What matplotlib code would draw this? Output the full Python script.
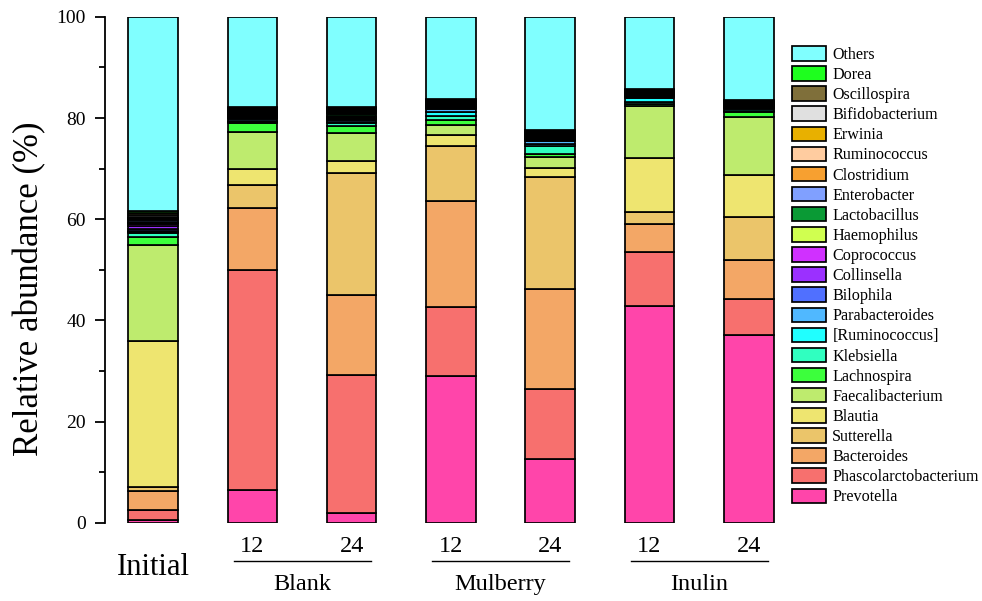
import matplotlib
matplotlib.use("Agg")
import matplotlib.pyplot as plt
import numpy as np

# genera, in stacking order (bottom -> top)
taxa = ["Prevotella", "Phascolarctobacterium", "Bacteroides", "Sutterella", "Blautia",
        "Faecalibacterium", "Lachnospira", "Klebsiella", "[Ruminococcus]", "Parabacteroides",
        "Bilophila", "Collinsella", "Coprococcus", "Haemophilus", "Lactobacillus",
        "Enterobacter", "Clostridium", "Ruminococcus", "Erwinia", "Bifidobacterium",
        "Oscillospira", "Dorea", "Others"]

colors = ["#FF45AA", "#F7706E", "#F3A766", "#EBC56A", "#EEE570",
          "#BEEB6E", "#3CFF3C", "#30FFC0", "#20FFFF", "#50B8FF",
          "#5070FF", "#9B30FF", "#D030FF", "#D0FF50", "#0A9A35",
          "#80A0FF", "#F7A030", "#FFCCA0", "#E8B000", "#E0E0E0",
          "#7F6F3A", "#1EFF1E", "#80FFFF"]

# relative abundance (%) per sample, same order as taxa
initial = [0.6, 2.0, 3.6, 0.8, 29.0, 18.9, 1.6, 0.7, 0.3, 0.2, 0.3, 0.6, 0.4, 0.3,
           0.2, 0.3, 0.3, 0.2, 0.2, 0.4, 0.4, 0.4, 38.2]
blank_12 = [6.5, 43.4, 12.3, 4.6, 3.2, 7.2, 1.8, 0.3, 0.2, 0.3, 0.2, 0.2, 0.2, 0.2,
            0.2, 0.2, 0.2, 0.2, 0.2, 0.2, 0.2, 0.1, 17.9]
blank_24 = [1.9, 27.3, 15.9, 24.1, 2.3, 5.5, 1.5, 0.6, 0.2, 0.4, 0.2, 0.2, 0.2, 0.2,
            0.2, 0.2, 0.2, 0.2, 0.2, 0.2, 0.2, 0.2, 17.9]
mulberry_12 = [29.1, 13.6, 20.9, 10.8, 2.3, 1.9, 1.1, 0.8, 0.6, 0.6, 0.2, 0.2, 0.2, 0.1,
               0.2, 0.2, 0.1, 0.2, 0.2, 0.1, 0.2, 0.2, 16.1]
mulberry_24 = [12.6, 13.8, 19.8, 22.2, 1.8, 2.1, 0.6, 1.5, 0.4, 0.6, 0.2, 0.2, 0.2, 0.2,
               0.2, 0.2, 0.2, 0.2, 0.2, 0.2, 0.2, 0.1, 22.3]
inulin_12 = [42.9, 10.7, 5.5, 2.4, 10.7, 10.1, 0.5, 0.3, 0.9, 0.2, 0.2, 0.1, 0.1, 0.2,
             0.1, 0.1, 0.2, 0.1, 0.1, 0.2, 0.1, 0.1, 14.2]
inulin_24 = [37.2, 7.1, 7.7, 8.5, 8.2, 11.6, 0.8, 0.3, 0.4, 0.2, 0.2, 0.1, 0.1, 0.2,
             0.1, 0.1, 0.2, 0.1, 0.1, 0.2, 0.1, 0.1, 16.4]

samples = [initial, blank_12, blank_24, mulberry_12, mulberry_24, inulin_12, inulin_24]
times = ["", "12", "24", "12", "24", "12", "24"]
groups = ["Blank", "Mulberry", "Inulin"]

data = np.array(samples).T  # rows = taxa, cols = samples

plt.rcParams["font.family"] = ["Liberation Serif", "DejaVu Serif"]

fig = plt.figure(figsize=(9.82, 6.01), dpi=100)
ax = fig.add_axes([0.107, 0.130, 0.706, 0.842])

x = np.arange(len(samples))
bottom = np.zeros(len(samples))
handles = []
for i, name in enumerate(taxa):
    b = ax.bar(x, data[i], 0.5, bottom=bottom, color=colors[i], edgecolor="black",
               linewidth=1.25, label=name)
    handles.append(b)
    bottom += data[i]

ax.set_xlim(-0.484, 6.5)
ax.set_ylim(0, 100)
ax.set_yticks(np.arange(0, 101, 20))
ax.set_yticks(np.arange(10, 100, 20), minor=True)
ax.tick_params(axis="y", which="major", direction="out", length=7, width=1.3,
               labelsize=14, pad=7)
ax.tick_params(axis="y", which="minor", direction="out", length=4, width=1.3)
ax.set_xticks([])
for s in ["top", "right", "bottom"]:
    ax.spines[s].set_visible(False)
ax.spines["left"].set_linewidth(1.3)
ax.set_ylabel("Relative abundance (%)", fontsize=25)
ax.yaxis.set_label_coords(-0.085, 0.462)

# x labels: sampling times, group names with underline
tr = ax.get_xaxis_transform()
ax.text(0, -0.088, "Initial", transform=tr, ha="center", va="center", fontsize=22)
for xi, t in zip(x[1:], times[1:]):
    ax.text(xi, -0.046, t, transform=tr, ha="center", va="center", fontsize=17.5)
for g, name in enumerate(groups):
    x0 = 1 + 2 * g
    ax.plot([x0 - 0.19, x0 + 1 + 0.19], [-0.075, -0.075], transform=tr, color="black",
            linewidth=1.0, clip_on=False)
    ax.text(x0 + 0.5, -0.122, name, transform=tr, ha="center", va="center", fontsize=17.5)

fig.legend(handles[::-1], taxa[::-1], loc="upper left", bbox_to_anchor=(0.800, 0.934),
           frameon=False, fontsize=11.6, handlelength=2.1, handleheight=1.0,
           labelspacing=0.21, handletextpad=0.4, borderaxespad=0)

fig.savefig("out.png", dpi=100)
